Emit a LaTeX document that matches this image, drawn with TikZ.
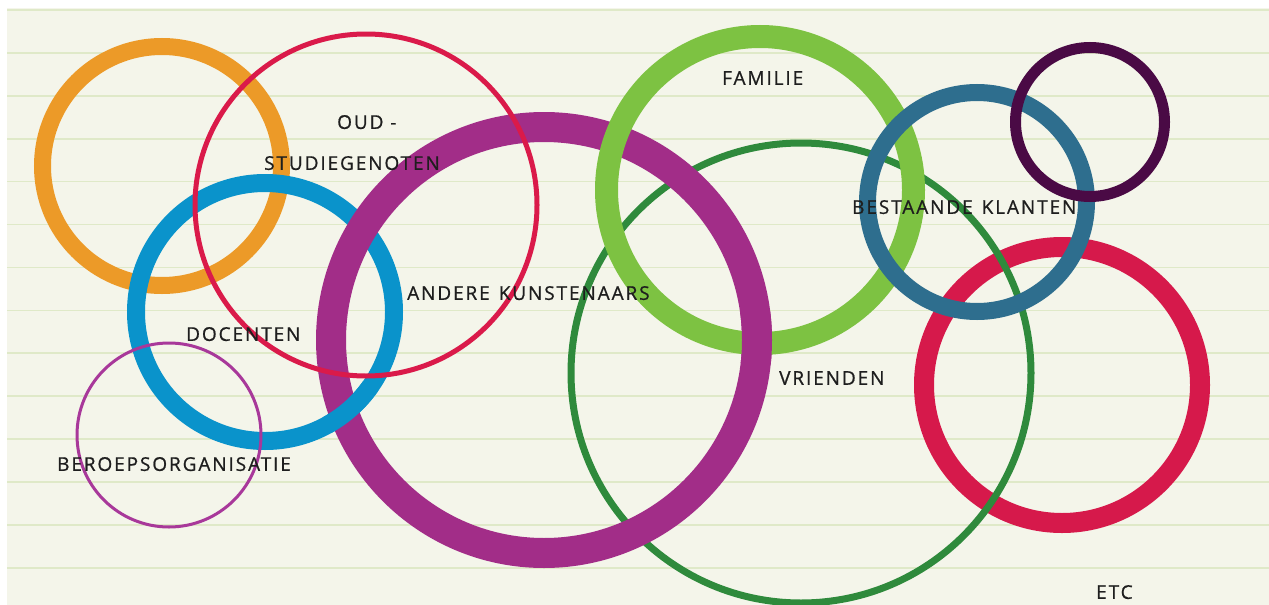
\documentclass[tikz,border=0pt]{standalone}
\usepackage{fontspec}
\newfontfamily\labelfont[LetterSpace=10,FakeBold=0.8]{Open Sans}
\usepackage{tikz}

\definecolor{paper}{HTML}{F4F5EA}
\definecolor{ruling}{HTML}{DFE9C8}
\definecolor{inkgrey}{HTML}{1E1E1E}
\definecolor{ringorange}{HTML}{EC9A28}
\definecolor{ringred}{HTML}{DA1A4A}
\definecolor{ringblue}{HTML}{0A93CB}
\definecolor{ringlilac}{HTML}{A8389A}
\definecolor{ringpurple}{HTML}{A22D88}
\definecolor{ringlime}{HTML}{7DC242}
\definecolor{ringgreen}{HTML}{2F8A3C}
\definecolor{ringsteel}{HTML}{2E6E8E}
\definecolor{ringplum}{HTML}{4A0A45}
\definecolor{ringcrimson}{HTML}{D6194B}

\begin{document}
\begin{tikzpicture}[x=1pt,y=-1pt,
  lbl/.style={anchor=west,inner sep=0pt,text depth=0pt,text=inkgrey,
    font=\labelfont\fontsize{19}{19}\selectfont}]
  % paper
  \useasboundingbox (0,0) rectangle (1269,605);
  \fill[white] (0,0) rectangle (1269,605);
  \fill[paper] (7,8) rectangle (1269,605);
  \foreach \k in {0,...,13}
    \draw[ruling, line width=1.6pt] (7,10+42.9*\k) -- (1269,10+42.9*\k);

  % rings
  \draw[ringorange, line width=17pt] (162,166) circle (119.5pt);
  \draw[ringblue, line width=18pt] (265,312) circle (129pt);
  \draw[ringcrimson, line width=20pt] (1062,385) circle (138pt);
  \draw[ringgreen, line width=7pt] (801,373) circle (230pt);
  \draw[ringpurple, line width=30pt] (544,340) circle (213pt);
  \begin{scope}
    \clip (355,412) circle (32pt);
    \draw[ringblue, line width=18pt] (265,312) circle (129pt);
  \end{scope}
  \draw[ringlime, line width=23pt] (760,190) circle (153.5pt);
  \begin{scope}
    \clip (757,338) circle (30pt);
    \draw[ringpurple, line width=30pt] (544,340) circle (213pt);
  \end{scope}
  \draw[ringred, line width=5pt] (366,205) circle (171pt);
  \draw[ringlilac, line width=3pt] (169,435) circle (92pt);
  \draw[ringsteel, line width=17pt] (977,202) circle (109.5pt);
  \draw[ringplum, line width=11pt] (1090,122) circle (74.5pt);

  % labels
  \node[lbl] (oud) at (337,122) {OUD -};
  \node[lbl] (studie) at (264,163) {STUDIEGENOTEN};
  \node[lbl] (kunst) at (407,293) {ANDERE\hspace{9pt}KUNSTENAARS};
  \node[lbl] (docent) at (186,334) {DOCENTEN};
  \node[lbl] (beroep) at (57,464) {BEROEPSORGANISATIE};
  \node[lbl] (familie) at (722,78) {FAMILIE};
  \node[lbl] (vriend) at (779,378) {VRIENDEN};
  \node[lbl] (klant) at (852,207) {BESTAANDE\hspace{9pt}KLANTEN};
  \node[lbl] (etc) at (1096,592) {ETC};
\end{tikzpicture}
\end{document}
